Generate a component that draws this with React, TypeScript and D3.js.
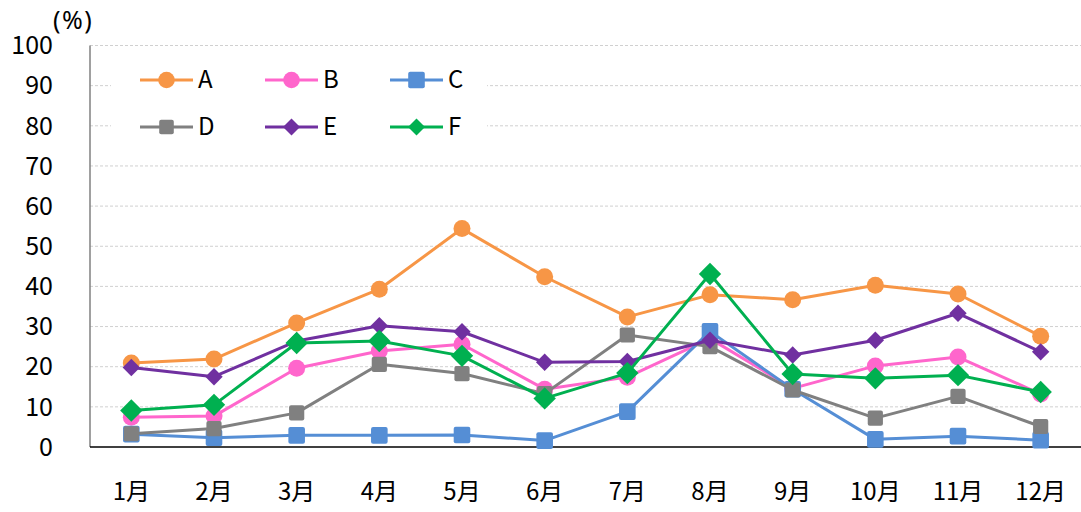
import React from "react";
import * as d3 from "d3";

const months = ["1月", "2月", "3月", "4月", "5月", "6月", "7月", "8月", "9月", "10月", "11月", "12月"];
const yTicks = [0, 10, 20, 30, 40, 50, 60, 70, 80, 90, 100];

const seriesA = [20.9, 21.9, 30.9, 39.3, 54.4, 42.4, 32.4, 37.9, 36.7, 40.3, 38.1, 27.6];
const seriesB = [7.4, 7.7, 19.6, 23.9, 25.6, 14.4, 17.4, 27.0, 14.6, 20.2, 22.4, 13.2];
const seriesC = [3.2, 2.3, 2.9, 2.9, 3.0, 1.6, 8.8, 28.8, 14.4, 1.9, 2.7, 1.7];
const seriesD = [3.3, 4.6, 8.5, 20.6, 18.3, 13.3, 27.9, 25.0, 14.2, 7.2, 12.6, 5.1];
const seriesE = [19.8, 17.5, 26.4, 30.2, 28.7, 21.1, 21.3, 26.6, 22.9, 26.6, 33.3, 23.7];
const seriesF = [9.1, 10.5, 25.9, 26.4, 22.7, 12.1, 18.4, 43.1, 18.2, 17.1, 17.9, 13.7];

type Marker = "circle" | "square" | "diamond";
const series: { name: string; values: number[]; color: string; marker: Marker; size: number; legendSize: number }[] = [
  { name: "A", values: seriesA, color: "#F79646", marker: "circle", size: 8.5, legendSize: 8.3 },
  { name: "B", values: seriesB, color: "#FF66CC", marker: "circle", size: 8.5, legendSize: 8.3 },
  { name: "C", values: seriesC, color: "#558ED5", marker: "square", size: 8.3, legendSize: 8.3 },
  { name: "D", values: seriesD, color: "#808080", marker: "square", size: 7.6, legendSize: 7.3 },
  { name: "E", values: seriesE, color: "#7030A0", marker: "diamond", size: 8.7, legendSize: 8.5 },
  { name: "F", values: seriesF, color: "#00B050", marker: "diamond", size: 11.2, legendSize: 8.5 },
];

const W = 1081;
const H = 512;
const left = 90;
const right = 1082;
const top = 45.5;
const bottom = 447;

const fontFamily = "'Noto Sans CJK JP', 'Noto Sans', sans-serif";

function MarkerShape({ type, x, y, s, color }: { type: Marker; x: number; y: number; s: number; color: string }) {
  if (type === "circle") return <circle cx={x} cy={y} r={s} fill={color} />;
  if (type === "square")
    return <rect x={x - s} y={y - s} width={2 * s} height={2 * s} rx={2} fill={color} />;
  return <path d={`M${x},${y - s}L${x + s},${y}L${x},${y + s}L${x - s},${y}Z`} fill={color} />;
}

export default function App() {
  const x = d3.scaleBand<string>().domain(months).range([left, right]);
  const y = d3.scaleLinear().domain([0, 100]).range([bottom, top]);
  const cx = (m: string) => (x(m) as number) + x.bandwidth() / 2;
  const line = d3
    .line<number>()
    .x((_, i) => cx(months[i]))
    .y((v) => y(v));

  const legendCols = [140, 265, 390];
  const legendRows = [80, 127];

  return (
    <svg width={W} height={H} style={{ position: "absolute", left: 0, top: 0, background: "#fff" }}>
      <rect x={0} y={0} width={W} height={H} fill="#fff" />
      {yTicks
        .filter((t) => t > 0)
        .map((t) => (
          <line key={t} x1={left} x2={right} y1={y(t)} y2={y(t)} stroke="#d0d0d0" strokeWidth={1} strokeDasharray="3,2" />
        ))}
      <line x1={left} x2={left} y1={top} y2={bottom} stroke="#808080" strokeWidth={1.5} />
      <line x1={left} x2={right} y1={bottom} y2={bottom} stroke="#000" strokeWidth={1.5} />
      {yTicks.map((t) => (
        <text key={t} x={53} y={y(t)} dy="0.35em" textAnchor="end" fontSize={25} fontFamily={fontFamily} fill="#000">
          {t}
        </text>
      ))}
      <text x={53} y={29} fontSize={25} letterSpacing={1.5} fontFamily="'Noto Sans', sans-serif" fill="#000">(%)</text>
      {months.map((m) => (
        <text key={m} x={cx(m)} y={500} textAnchor="middle" fontSize={24} fontFamily={fontFamily} fill="#000">
          {m}
        </text>
      ))}
      {series.map((s) => (
        <g key={s.name}>
          <path d={line(s.values) || ""} fill="none" stroke={s.color} strokeWidth={3} strokeLinejoin="round" />
          {s.values.map((v, i) => (
            <MarkerShape key={i} type={s.marker} x={cx(months[i])} y={y(v)} s={s.size} color={s.color} />
          ))}
        </g>
      ))}
      <rect x={111} y={52} width={376} height={100} fill="#fff" />
      {series.map((s, i) => {
        const lx = legendCols[i % 3];
        const ly = legendRows[Math.floor(i / 3)];
        return (
          <g key={s.name}>
            <line x1={lx} x2={lx + 53} y1={ly} y2={ly} stroke={s.color} strokeWidth={3} />
            <MarkerShape type={s.marker} x={lx + 26.5} y={ly} s={s.legendSize} color={s.color} />
            <text x={lx + 58} y={ly} dy="0.35em" fontSize={24} fontFamily={fontFamily} fill="#000">
              {s.name}
            </text>
          </g>
        );
      })}
    </svg>
  );
}
